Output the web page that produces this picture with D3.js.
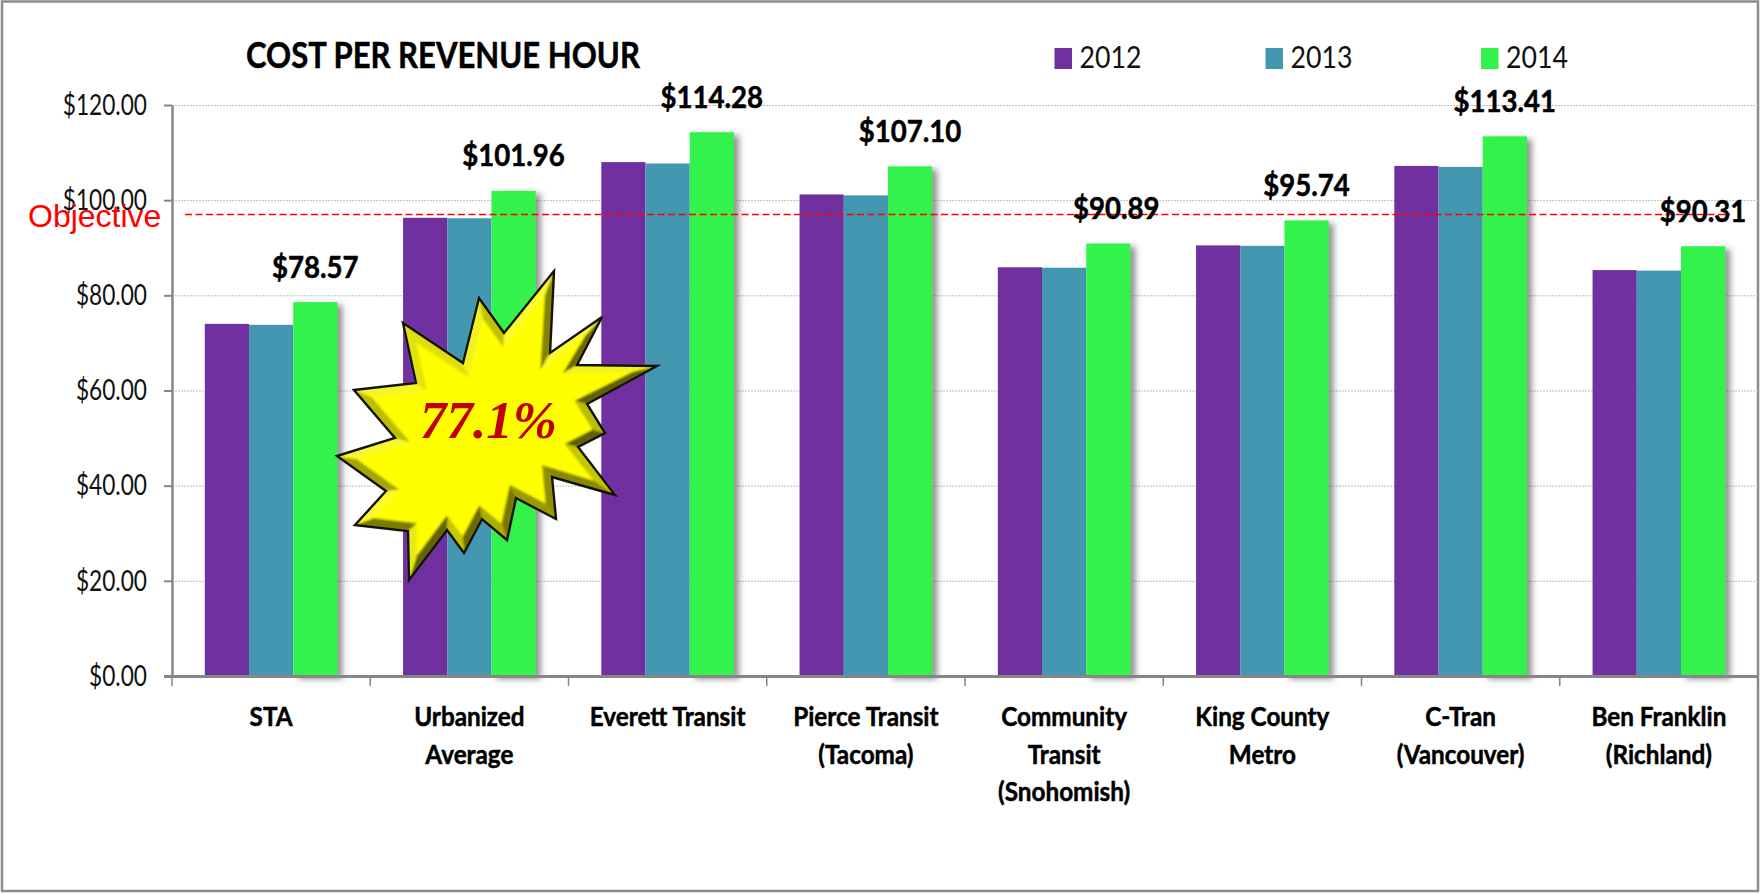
<!DOCTYPE html>
<html><head><meta charset="utf-8">
<script src="https://cdn.jsdelivr.net/npm/d3@7/dist/d3.min.js"></script>
<style>html,body{margin:0;padding:0;background:#fff}svg{display:block}</style>
</head><body>
<svg id="c" width="1761" height="894"></svg>
<script>
const categories = ["STA","Urbanized\nAverage","Everett Transit","Pierce Transit\n(Tacoma)","Community\nTransit\n(Snohomish)","King County\nMetro","C-Tran\n(Vancouver)","Ben Franklin\n(Richland)"];
const years = ["2012","2013","2014"];
const values2012 = [74.0,96.3,108.0,101.2,85.9,90.5,107.2,85.3];
const values2013 = [73.8,96.2,107.7,101.0,85.8,90.4,107.0,85.2];
const values2014 = [78.57,101.96,114.28,107.10,90.89,95.74,113.41,90.31];
const series = [values2012,values2013,values2014];
const yTicks = [0,20,40,60,80,100,120];
const objective = 97;
const colors = ["#7030A0","#4397B1","#33F24C"];
const burst = [[554,271],[550,353],[602,317],[577,365],[657,366],[587,404],[605,433],[578,447],[615,495],[552,477],[556,519],[516,498],[507,540],[482,519],[464,553],[447,530],[409,580],[408,531],[355,525],[386,491],[337,456],[395,438],[354,390],[416,383],[403,323],[463,363],[479,298],[504,333]];

const svg = d3.select("#c");
const FONT = "Lato, 'Open Sans', sans-serif";
const plotL=172, plotR=1758, plotT=105, plotB=676;
const x = d3.scaleBand().domain(categories).range([plotL,plotR]).paddingInner(0.331).paddingOuter(0.1655);
const xs = d3.scaleBand().domain(years).range([0,x.bandwidth()]);
const y = d3.scaleLinear().domain([0,120]).range([plotB,plotT]);

const defs = svg.append("defs");
const f = defs.append("filter").attr("id","sh").attr("x","-20%").attr("y","-10%").attr("width","150%").attr("height","120%");
f.append("feDropShadow").attr("dx",5).attr("dy",3).attr("stdDeviation",3).attr("flood-color","#555").attr("flood-opacity",0.65);
const bf = defs.append("filter").attr("id","soft").attr("x","-5%").attr("y","-5%").attr("width","110%").attr("height","110%");
bf.append("feGaussianBlur").attr("stdDeviation",0.9);

// frame
svg.append("rect").attr("x",2).attr("y",1.5).attr("width",1756).attr("height",889.5).attr("fill","#fff").attr("stroke","#8c8c8c").attr("stroke-width",2.5);

// narrow text helper
function label(g,txt,px,py,size,weight,anchor,sx,fill){
  const t = g.append("text").attr("transform",`translate(${px},${py}) scale(${sx},1)`)
    .attr("font-family",FONT).attr("font-size",size).attr("font-weight",weight)
    .attr("text-anchor",anchor).attr("fill",fill||"#000").text(txt);
  if(weight>=700) t.attr("stroke",fill||"#000").attr("stroke-width",0.5);
  return t;
}

// gridlines
svg.append("g").selectAll("line").data(yTicks.filter(d=>d>0)).join("line")
  .attr("x1",plotL).attr("x2",plotR).attr("y1",d=>y(d)+.5).attr("y2",d=>y(d)+.5)
  .attr("stroke","#bdbdbd").attr("stroke-width",1).attr("stroke-dasharray","2 1");

// bars (green last, with shadow)
series.forEach((vals,si)=>{
  const g = svg.append("g");
  if(si===2) g.attr("filter","url(#sh)");
  g.selectAll("rect").data(vals).join("rect")
    .attr("x",(d,i)=>x(categories[i])+xs(years[si]))
    .attr("width",xs.bandwidth())
    .attr("y",d=>y(d)).attr("height",d=>plotB-y(d))
    .attr("fill",colors[si]);
});

// axes
const yAxis = d3.axisLeft(y).tickValues(yTicks).tickFormat(d=>"$"+d.toFixed(2)).tickSize(8).tickSizeOuter(0);
const ya = svg.append("g").attr("transform",`translate(${plotL},0)`).call(yAxis);
ya.select(".domain").attr("stroke","#868686").attr("stroke-width",2.5);
ya.selectAll(".tick line").attr("stroke","#868686").attr("stroke-width",2);
ya.selectAll(".tick text").attr("font-family",FONT).attr("font-size",28).attr("fill","#111")
  .attr("x",0).attr("dy",".33em").attr("text-anchor","end")
  .attr("transform","translate(-25,0) scale(0.81,1)");

const xa = svg.append("g");
xa.append("line").attr("x1",plotL-8).attr("x2",plotR).attr("y1",plotB+.5).attr("y2",plotB+.5).attr("stroke","#868686").attr("stroke-width",3);
xa.selectAll(".t").data(d3.range(9)).join("line").attr("class","t")
  .attr("x1",i=>plotL+i*x.step()).attr("x2",i=>plotL+i*x.step())
  .attr("y1",plotB).attr("y2",plotB+10).attr("stroke","#868686").attr("stroke-width",1.5);

// category labels
categories.forEach(c=>{
  c.split("\n").forEach((ln,li)=>{
    label(svg,ln,x(c)+x.bandwidth()/2,726+li*37.5,27,700,"middle",0.9);
  });
});

// objective
svg.append("line").attr("x1",185).attr("x2",1730).attr("y1",y(objective)).attr("y2",y(objective))
  .attr("stroke","#f00").attr("stroke-width",1.6).attr("stroke-dasharray","7 3.5");
svg.append("text").attr("x",28).attr("y",227).attr("font-family","'Liberation Sans',Arial,sans-serif")
  .attr("font-size",32).attr("fill","#f00").text("Objective");

// value labels
values2014.forEach((v,i)=>{
  const cx = x(categories[i])+xs("2014")+xs.bandwidth()/2 + (i===4?8:0);
  label(svg,"$"+v.toFixed(2),cx,y(v)-24.5,31,700,"middle",0.89);
});

// title
label(svg,"COST PER REVENUE HOUR",246,68,37,700,"start",0.84);

// legend
const legendX = [1054.5,1265.5,1481];
years.forEach((yr,i)=>{
  svg.append("rect").attr("x",legendX[i]).attr("y",48).attr("width",17.5).attr("height",21).attr("fill",colors[i]);
  label(svg,yr,legendX[i]+25,68,30,400,"start",0.89,"#111");
});

// starburst
const n = burst.length;
const sign = d3.polygonArea(burst)>0?-1:1;
const bevel = 9;
function norm(a,b){const dx=b[0]-a[0],dy=b[1]-a[1],l=Math.hypot(dx,dy);return [dy/l*sign,-dx/l*sign];}
const inner = burst.map((p,i)=>{
  const a=burst[(i-1+n)%n], b=burst[(i+1)%n];
  const n1=norm(a,p), n2=norm(p,b);
  let mx=n1[0]+n2[0], my=n1[1]+n2[1]; const l=Math.hypot(mx,my)||1; mx/=l; my/=l;
  const cos=mx*n1[0]+my*n1[1];
  const d=Math.min(bevel/Math.max(cos,0.15),26);
  return [p[0]-mx*d,p[1]-my*d];
});
const lineGen = d3.line().curve(d3.curveLinearClosed);
const star = svg.append("g");
star.append("path").attr("d",lineGen(burst)).attr("fill","#ffff00");
const shade = d3.scaleLinear().domain([-1,-0.2,1]).range(["#fbfb30","#d8d800","#5f5f00"]);
const bev = star.append("g").attr("filter","url(#soft)");
burst.forEach((p,i)=>{
  const j=(i+1)%n, nn=norm(p,burst[j]);
  const dot=(nn[0]*0.6+nn[1]*0.8);
  bev.append("path").attr("d",lineGen([p,burst[j],inner[j],inner[i]])).attr("fill",shade(dot));
});
bev.append("path").attr("d",lineGen(inner)).attr("fill","#ffff00");
star.append("path").attr("d",lineGen(burst)).attr("fill","none").attr("stroke","#111").attr("stroke-width",2.4).attr("stroke-linejoin","miter");
star.append("text").attr("x",420).attr("y",438).attr("font-family","'Liberation Serif',serif").attr("font-weight",700).attr("font-style","italic")
  .attr("font-size",53).attr("fill","#C00000").text("77.1%");
</script>
</body></html>
